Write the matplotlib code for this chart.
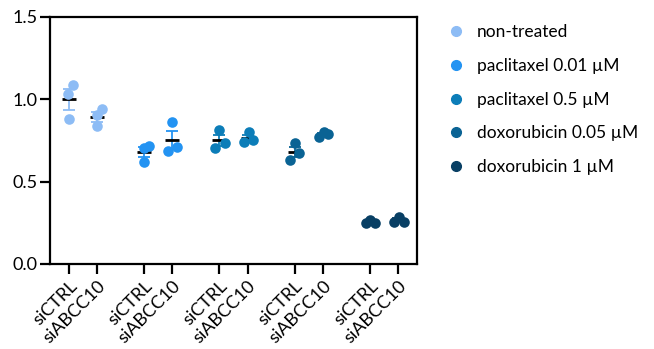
import numpy as np
import matplotlib
matplotlib.use('Agg')
import matplotlib.pyplot as plt
from matplotlib.lines import Line2D

plt.rcParams['font.family'] = ['Lato', 'DejaVu Sans']

treatments = ['non-treated', 'paclitaxel 0.01 µM', 'paclitaxel 0.5 µM',
              'doxorubicin 0.05 µM', 'doxorubicin 1 µM']
conditions = ['siCTRL', 'siABCC10']
colors = ['#8DBCF5', '#2393F2', '#0C7DB8', '#0A6394', '#083F64']

# replicate values per treatment: [siCTRL, siABCC10]
values = [
    [[1.03, 1.09, 0.88], [0.905, 0.94, 0.835]],
    [[0.706, 0.718, 0.617], [0.86, 0.688, 0.712]],
    [[0.814, 0.706, 0.733], [0.743, 0.80, 0.753]],
    [[0.733, 0.631, 0.676], [0.769, 0.803, 0.787]],
    [[0.251, 0.267, 0.251], [0.257, 0.287, 0.257]],
]

# horizontal scatter offsets of the replicate dots (swarm-like)
offsets = [
    [[-0.03, 0.15, 0.0], [0.0, 0.16, 0.0]],
    [[0.0, 0.18, 0.0], [0.0, -0.15, 0.18]],
    [[0.0, -0.15, 0.18], [-0.13, 0.05, 0.2]],
    [[0.0, -0.15, 0.15], [-0.14, 0.04, 0.19]],
    [[-0.14, 0.02, 0.18], [-0.13, 0.04, 0.21]],
]

group_gap = 75 / 28

fig = plt.figure(figsize=(6.54, 3.49), dpi=100)
ax = fig.add_axes([0.0765, 0.2436, 0.5611, 0.7077])

xticks, xlabels = [], []
for g, tr in enumerate(treatments):
    for c, cond in enumerate(conditions):
        x = g * group_gap + c
        v = np.array(values[g][c])
        m = v.mean()
        sem = v.std(ddof=1) / np.sqrt(len(v))
        ax.errorbar(x, m, yerr=sem, color=colors[g], capsize=4, elinewidth=1.3,
                    capthick=1.3, zorder=2, fmt='none')
        ax.plot([x - 0.25, x + 0.25], [m, m], color='black', lw=2, zorder=3,
                solid_capstyle='butt')
        xs = x + np.array(offsets[g][c])
        ax.scatter(xs, v, s=58, color=colors[g], zorder=4, linewidths=0)
        xticks.append(x)
        xlabels.append(cond)

ax.set_xlim(-0.68, 4 * group_gap + 1 + 0.68)
ax.set_ylim(0, 1.5)
ax.set_yticks([0, 0.5, 1.0, 1.5])
ax.set_yticklabels(['0.0', '0.5', '1.0', '1.5'])
ax.set_xticks(xticks)
ax.set_xticklabels(xlabels, rotation=45, ha='right', rotation_mode='anchor')
for sp in ax.spines.values():
    sp.set_linewidth(1.6)
ax.tick_params(axis='both', length=7, width=1.6, labelsize=13)
ax.tick_params(axis='y', pad=2)
ax.tick_params(axis='x', pad=3)

handles = [Line2D([], [], marker='o', ls='none', color=col, markersize=7)
           for col in colors]
fig.legend(handles, treatments, loc='upper left', bbox_to_anchor=(0.658, 0.975),
           frameon=False, fontsize=12.5, labelspacing=1.02, handletextpad=0.6,
           handlelength=1.2)

fig.savefig('out.png', dpi=100)
